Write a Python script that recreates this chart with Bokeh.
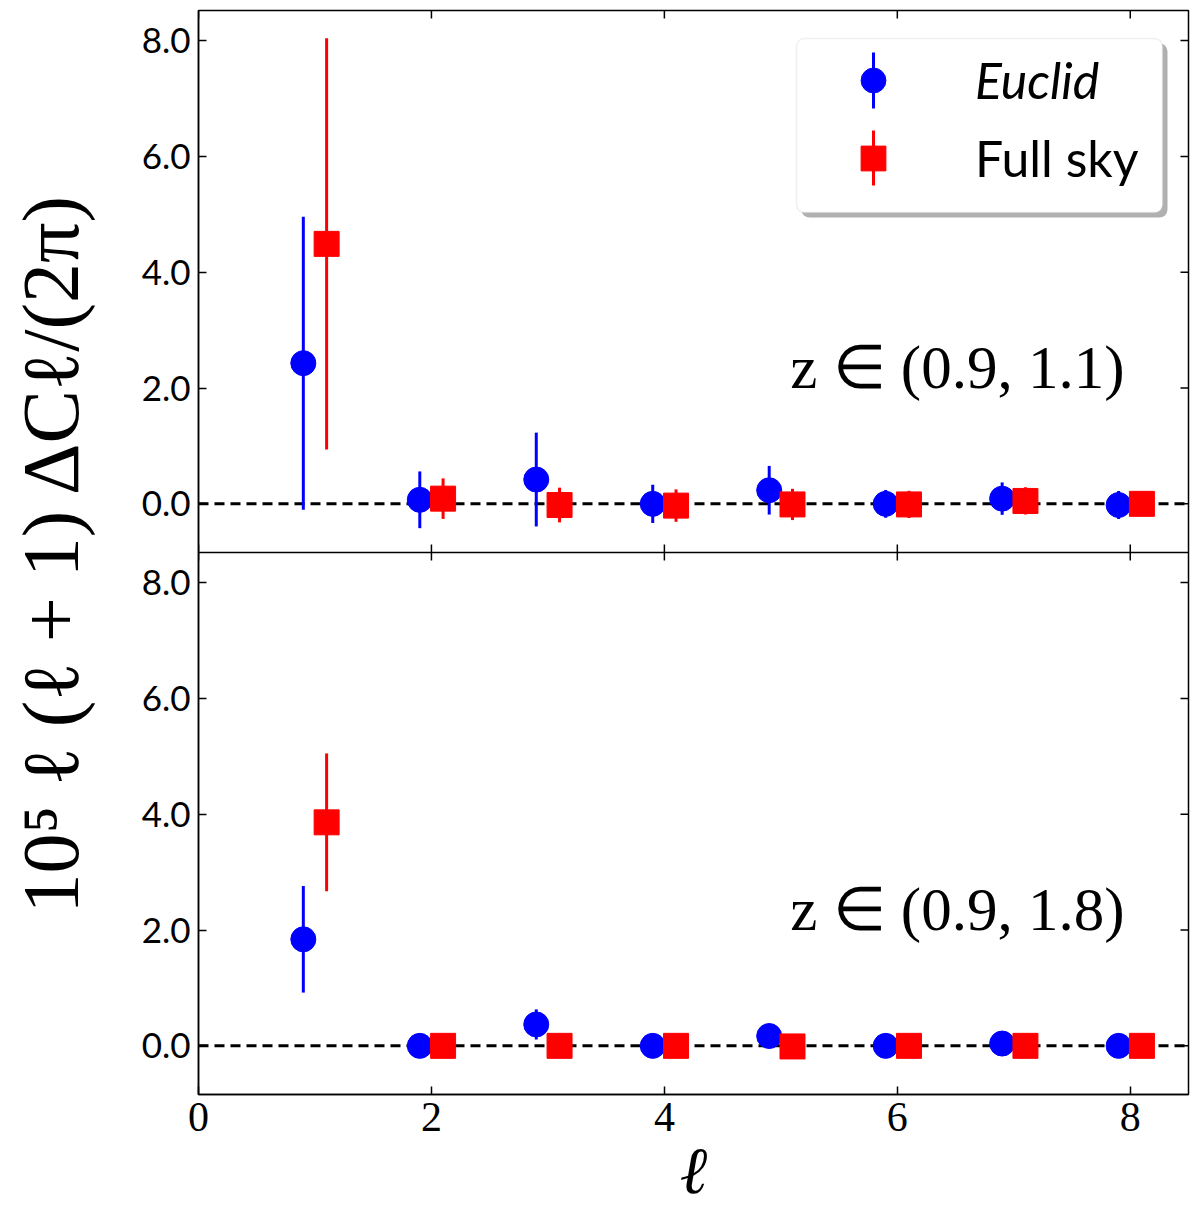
import numpy as np
from bokeh.plotting import figure
from bokeh.models import (Range1d, LinearAxis, FixedTicker, CustomJSTickFormatter, Span,
                          Label, Legend, LegendItem, BoxAnnotation, Arrow)
from bokeh.embed import file_html
from bokeh.resources import INLINE

# multipoles (points are shifted left/right a little for each survey)
ell = [1, 2, 3, 4, 5, 6, 7, 8]

# panel 1: z in (0.9, 1.1)
euclid_1 = [2.43, 0.07, 0.42, 0.00, 0.235, 0.00, 0.09, -0.02]
euclid_1_err = [2.53, 0.49, 0.81, 0.33, 0.42, 0.24, 0.28, 0.24]
fullsky_1 = [4.49, 0.09, -0.02, -0.03, -0.01, -0.01, 0.05, 0.00]
fullsky_1_err = [3.55, 0.35, 0.30, 0.28, 0.27, 0.235, 0.235, 0.15]

# panel 2: z in (0.9, 1.8)
euclid_2 = [1.84, 0.00, 0.37, 0.00, 0.17, 0.00, 0.04, 0.00]
euclid_2_err = [0.92, 0.08, 0.26, 0.08, 0.10, 0.06, 0.06, 0.05]
fullsky_2 = [3.86, 0.00, 0.00, 0.00, -0.01, 0.00, 0.00, 0.00]
fullsky_2_err = [1.19, 0.05, 0.05, 0.05, 0.05, 0.04, 0.04, 0.03]

panel_text = ["z ∈ (0.9, 1.1)", "z ∈ (0.9, 1.8)"]
x_ticks = [0, 2, 4, 6, 8]
y_ticks = [0, 2, 4, 6, 8]

BLUE = "#0000ff"
RED = "#ff0000"
SANS = "Lato"
SERIF = "Liberation Serif"

# both panels share one frame: top uses the default y range, bottom uses "low"
lo, hi = -0.84, 8.52
h = hi - lo
xmax = 8.5

p = figure(frame_width=990, frame_height=1084, x_range=Range1d(0, xmax),
           y_range=Range1d(lo - h, hi), output_backend="svg", toolbar_location=None,
           x_axis_location=None, y_axis_location=None,
           min_border_left=198, min_border_right=4, min_border_top=10, min_border_bottom=114)
p.extra_y_ranges = {"low": Range1d(lo, hi + h)}
p.grid.visible = False
p.outline_line_color = "black"
p.outline_line_width = 1.5


def style(ax):
    ax.major_tick_in = 8
    ax.major_tick_out = 0
    ax.minor_tick_line_color = None
    ax.axis_line_width = 1.5
    ax.major_tick_line_width = 1.5
    ax.major_label_text_color = "black"
    ax.axis_label_text_color = "black"


left_ticks = y_ticks + [t - h for t in y_ticks]
fmt = CustomJSTickFormatter(args=dict(cut=lo, shift=h), code="""
    let v = tick < cut ? tick + shift : tick;
    if (Math.abs(v) < 1e-9) v = 0;
    return v.toFixed(1);
""")
left = LinearAxis(ticker=FixedTicker(ticks=left_ticks), formatter=fmt,
                  axis_label="10⁵ ℓ (ℓ + 1) ΔCℓ/(2π)")
style(left)
left.major_label_text_font = SANS
left.major_label_text_font_size = "35px"
left.major_label_standoff = 8
left.axis_label_text_font = SERIF
left.axis_label_text_font_style = "normal"
left.axis_label_text_font_size = "80px"
left.axis_label_standoff = 44
p.add_layout(left, "left")

bottom = LinearAxis(ticker=FixedTicker(ticks=x_ticks), axis_label="ℓ")
style(bottom)
bottom.major_label_text_font = SERIF
bottom.major_label_text_font_size = "42px"
bottom.major_label_standoff = 8
bottom.axis_label_text_font = "DejaVu Serif"
bottom.axis_label_text_font_style = "italic"
bottom.axis_label_text_font_size = "66px"
bottom.axis_label_standoff = -2
p.add_layout(bottom, "below")

# inward ticks on the top edge, the right edge and the panel boundary
tick_kw = dict(marker="dash", size=16, line_color="black", line_width=1.5)
p.scatter(x_ticks, [hi] * len(x_ticks), angle=np.pi / 2, **tick_kw)
p.scatter(x_ticks, [lo] * len(x_ticks), angle=np.pi / 2, **tick_kw)
p.scatter([xmax] * len(y_ticks), y_ticks, **tick_kw)
p.scatter([xmax] * len(y_ticks), y_ticks, y_range_name="low", **tick_kw)
p.add_layout(Span(location=lo, dimension="width", line_color="black", line_width=1.5))

renderers = {}
panels = [("default", euclid_1, euclid_1_err, fullsky_1, fullsky_1_err, panel_text[0]),
          ("low", euclid_2, euclid_2_err, fullsky_2, fullsky_2_err, panel_text[1])]
for rng, ye, ee, yf, ef, txt in panels:
    p.add_layout(Span(location=0, dimension="width", line_color="black", line_width=3,
                      line_dash="10 6", level="underlay", y_range_name=rng))
    xe = np.array(ell) - 0.1
    xf = np.array(ell) + 0.1
    ye, ee, yf, ef = map(np.array, (ye, ee, yf, ef))
    p.segment(xe, ye - ee, xe, ye + ee, line_color=BLUE, line_width=3, y_range_name=rng)
    p.segment(xf, yf - ef, xf, yf + ef, line_color=RED, line_width=3, y_range_name=rng)
    re = p.scatter(xe, ye, marker="circle", size=25, color=BLUE, y_range_name=rng)
    rf = p.scatter(xf, yf, marker="square", size=25, color=RED, y_range_name=rng)
    renderers.setdefault("e", re)
    renderers.setdefault("f", rf)
    p.add_layout(Label(x=7.95, y=2.35, text=txt, text_align="right", text_baseline="middle",
                       text_font=SERIF, text_font_size="61px", text_color="black",
                       y_range_name=rng))

# legend: shadow + box, then one legend per entry (Euclid is italic)
box_kw = dict(left_units="screen", right_units="screen", bottom_units="screen",
              top_units="screen", border_radius=8)
p.add_layout(BoxAnnotation(left=603, right=969, bottom=877, top=1051, fill_color="#b0b0b0",
                           fill_alpha=1, line_color=None, **box_kw))
p.add_layout(BoxAnnotation(left=598, right=964, bottom=882, top=1056, fill_color="white",
                           fill_alpha=1, line_color="#cccccc", line_width=1.5, **box_kw))

for key, label, style_, loc in [("e", "Euclid", "italic", (611, 983)),
                                ("f", "Full sky", "normal", (611, 905))]:
    lg = Legend(items=[LegendItem(label=label, renderers=[renderers[key]])], location=loc,
                glyph_width=128, glyph_height=62, label_height=62, label_standoff=38,
                padding=0, margin=0, spacing=0, border_line_color=None,
                background_fill_alpha=0, label_text_font=SANS, label_text_font_size="50px",
                label_text_font_style=style_, label_text_color="black")
    p.add_layout(lg)

p.add_layout(Arrow(end=None, x_start=675, y_start=986, x_end=675, y_end=1042,
                   start_units="screen", end_units="screen", line_color=BLUE, line_width=3))
p.add_layout(Arrow(end=None, x_start=675, y_start=909, x_end=675, y_end=964,
                   start_units="screen", end_units="screen", line_color=RED, line_width=3))

open("out.html", "w").write(file_html(p, INLINE))
